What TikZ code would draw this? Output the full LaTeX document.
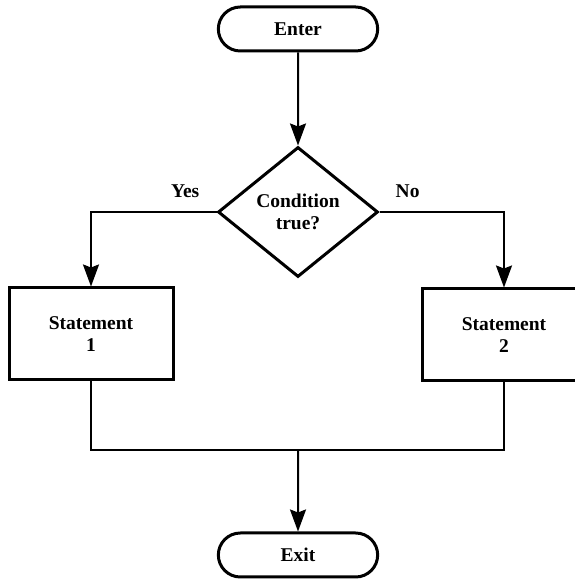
\documentclass[tikz,border=0pt]{standalone}
\usepackage{fontspec}
\setmainfont{Liberation Serif}
\usepackage{tikz}
\usetikzlibrary{arrows.meta,positioning,shapes.geometric,shapes.misc}

\begin{document}
\begin{tikzpicture}[x=1pt,y=1pt,>={Stealth[length=22pt,width=16pt,inset=3pt]},
    every node/.style={font=\fontsize{19.5}{22}\selectfont\bfseries},
    term/.style={draw,line width=3pt,rounded rectangle,minimum width=166pt,minimum height=44pt},
    decide/.style={draw,line width=3pt,diamond,aspect=1.23,inner sep=0pt,minimum width=160pt,minimum height=130pt,align=center},
    stmt/.style={draw,line width=3pt,rectangle,minimum width=164pt,minimum height=92pt,align=center},
    flow/.style={line width=2pt},
    lbl/.style={inner sep=0pt}]
  \useasboundingbox (0,0) rectangle (575,579);
  \node[term] (enter) at (298,550) {Enter};
  \node[decide] (cond) at (298,367) {Condition\\true?};
  \node[stmt] (st1) at (91,245) {Statement\\1};
  \node[stmt] (st2) at (504,244) {Statement\\2};
  \coordinate (join) at (298,129);
  \node[term] (exit) at (298,24) {Exit};
  \node[lbl,above left=14pt and 17pt of cond.west] (yes) {Yes};
  \node[lbl,above right=14pt and 16pt of cond.east] (no) {No};
  % branches
  \draw[flow,->] (enter) -- (cond);
  \draw[flow,->] (cond.west) -| (st1.north);
  \draw[flow,->] (cond.east) -| (st2.north);
  \draw[flow] (st1.south) |- (join) -| (st2.south);
  \draw[flow,->] (join) -- (exit);
\end{tikzpicture}
\end{document}
